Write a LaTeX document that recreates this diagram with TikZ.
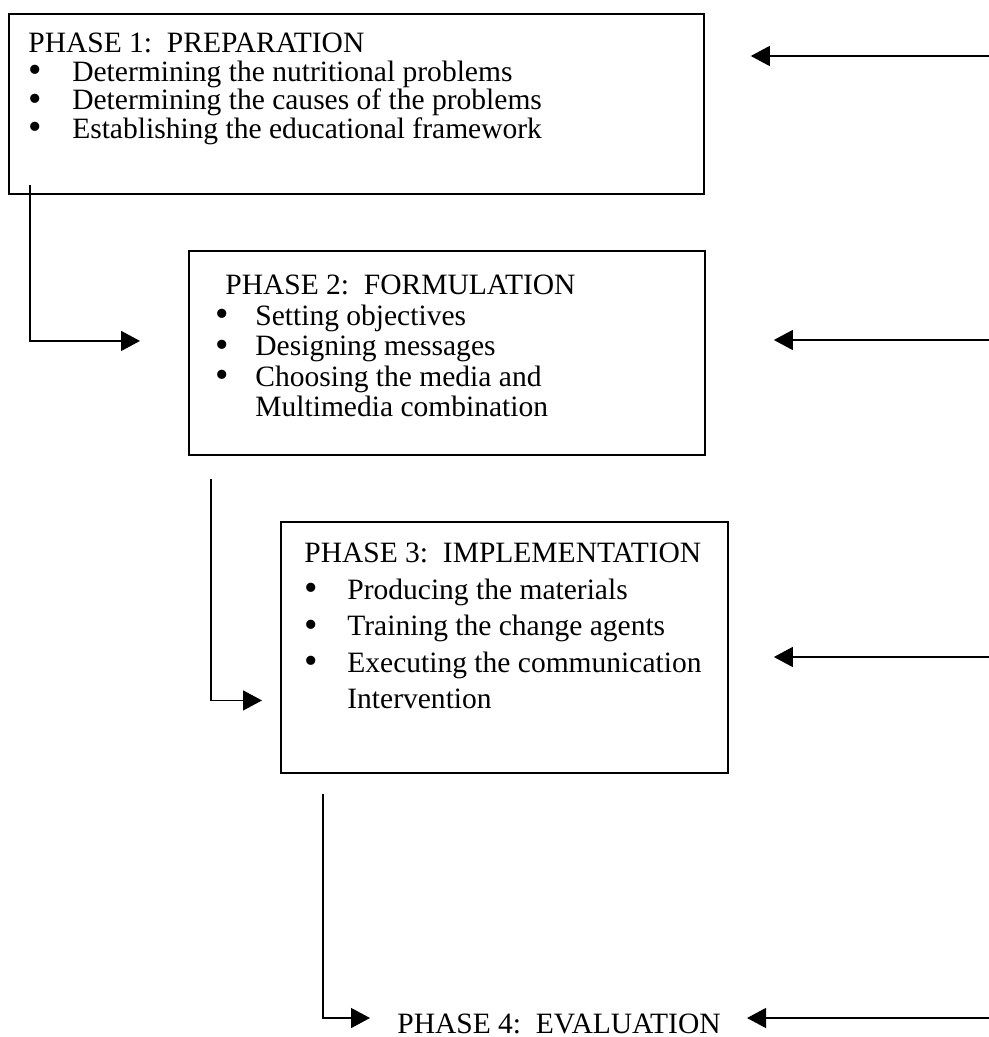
\documentclass[tikz,border=0pt]{standalone}
\usepackage{fontspec}
\setmainfont{Liberation Serif}
\usetikzlibrary{positioning,arrows.meta,calc}

\newcommand{\pbullet}{\smash{\raisebox{-0.05em}{\scalebox{1.3}{\textbullet}}}}
\newcommand{\pitem}[2][24pt]{\makebox[#1][l]{\pbullet}#2}
\newcommand{\pcont}[2][24pt]{\hspace*{#1}#2}

\begin{document}
\begin{tikzpicture}[
    x=0.02cm, y=-0.02cm,
    phaseBox/.style={
        rectangle, draw=black, line width=1.1pt, anchor=north west, inner sep=0pt
    },
    phaseText/.style={
        anchor=north west, inner sep=0pt, align=left
    },
    arrowStyle/.style={-{Triangle[length=0.38cm, width=0.4cm]}, line width=0.8pt}
]
    \useasboundingbox (0,0) rectangle (989,1037);

    % Boxes
    \node[phaseBox, minimum width=13.9cm, minimum height=3.6cm] (b1) at (8,13) {};
    \node[phaseBox, minimum width=10.32cm, minimum height=4.08cm] (b2) at (188,250) {};
    \node[phaseBox, minimum width=8.94cm, minimum height=5.02cm] (b3) at (280,521) {};

    % Texts
    \node[phaseText, font=\fontsize{16.8}{16.2}\selectfont] (t1) at ($(b1.north west)+(20,20)$) {
        PHASE 1:\ \ PREPARATION\\
        \pitem[25pt]{Determining the nutritional problems}\\
        \pitem[25pt]{Determining the causes of the problems}\\
        \pitem[25pt]{Establishing the educational framework}
    };
    \node[phaseText, font=\fontsize{16.8}{17.3}\selectfont] (t2) at ($(b2.north west)+(27,25)$) {
        \hspace*{5.7pt}PHASE 2:\ \ FORMULATION\\
        \pitem[22.8pt]{Setting objectives}\\
        \pitem[22.8pt]{Designing messages}\\
        \pitem[22.8pt]{Choosing the media and}\\
        \pcont[22.8pt]{Multimedia combination}
    };
    \node[phaseText, font=\fontsize{16.8}{20.7}\selectfont] (t3) at ($(b3.north west)+(24,22)$) {
        PHASE 3:\ \ IMPLEMENTATION\\
        \pitem[24.5pt]{Producing the materials}\\
        \pitem[24.5pt]{Training the change agents}\\
        \pitem[24.5pt]{Executing the communication}\\
        \pcont[24.5pt]{Intervention}
    };
    \node[anchor=base west, inner sep=0pt, font=\fontsize{16.8}{20}\selectfont] (p4) at (397,1033) {PHASE 4:\ \ EVALUATION};

    % Incoming arrows on the right
    \coordinate (in1) at (989,56);
    \coordinate (in2) at (989,340);
    \coordinate (in3) at (989,657);
    \coordinate (in4) at (989,1018);
    \draw[arrowStyle] (in1) -- ($(b1.north east)+(46,43)$);
    \draw[arrowStyle] (in2) -- ($(b2.north east)+(68,90)$);
    \draw[arrowStyle] (in3) -- ($(b3.north east)+(45,136)$);
    \draw[arrowStyle] (in4) -- ($(p4.base east)+(26,-15)$);

    % Phase to phase
    \draw[arrowStyle] ($(b1.south west)+(22,-10)$) |- ($(b2.west)+(-48,-12)$);
    \draw[arrowStyle] ($(b2.south west)+(23,23)$) |- ($(b3.west)+(-18,53)$);
    \draw[arrowStyle] ($(b3.south west)+(43,20)$) |- ($(p4.base west)+(-27,-15)$);
\end{tikzpicture}
\end{document}
